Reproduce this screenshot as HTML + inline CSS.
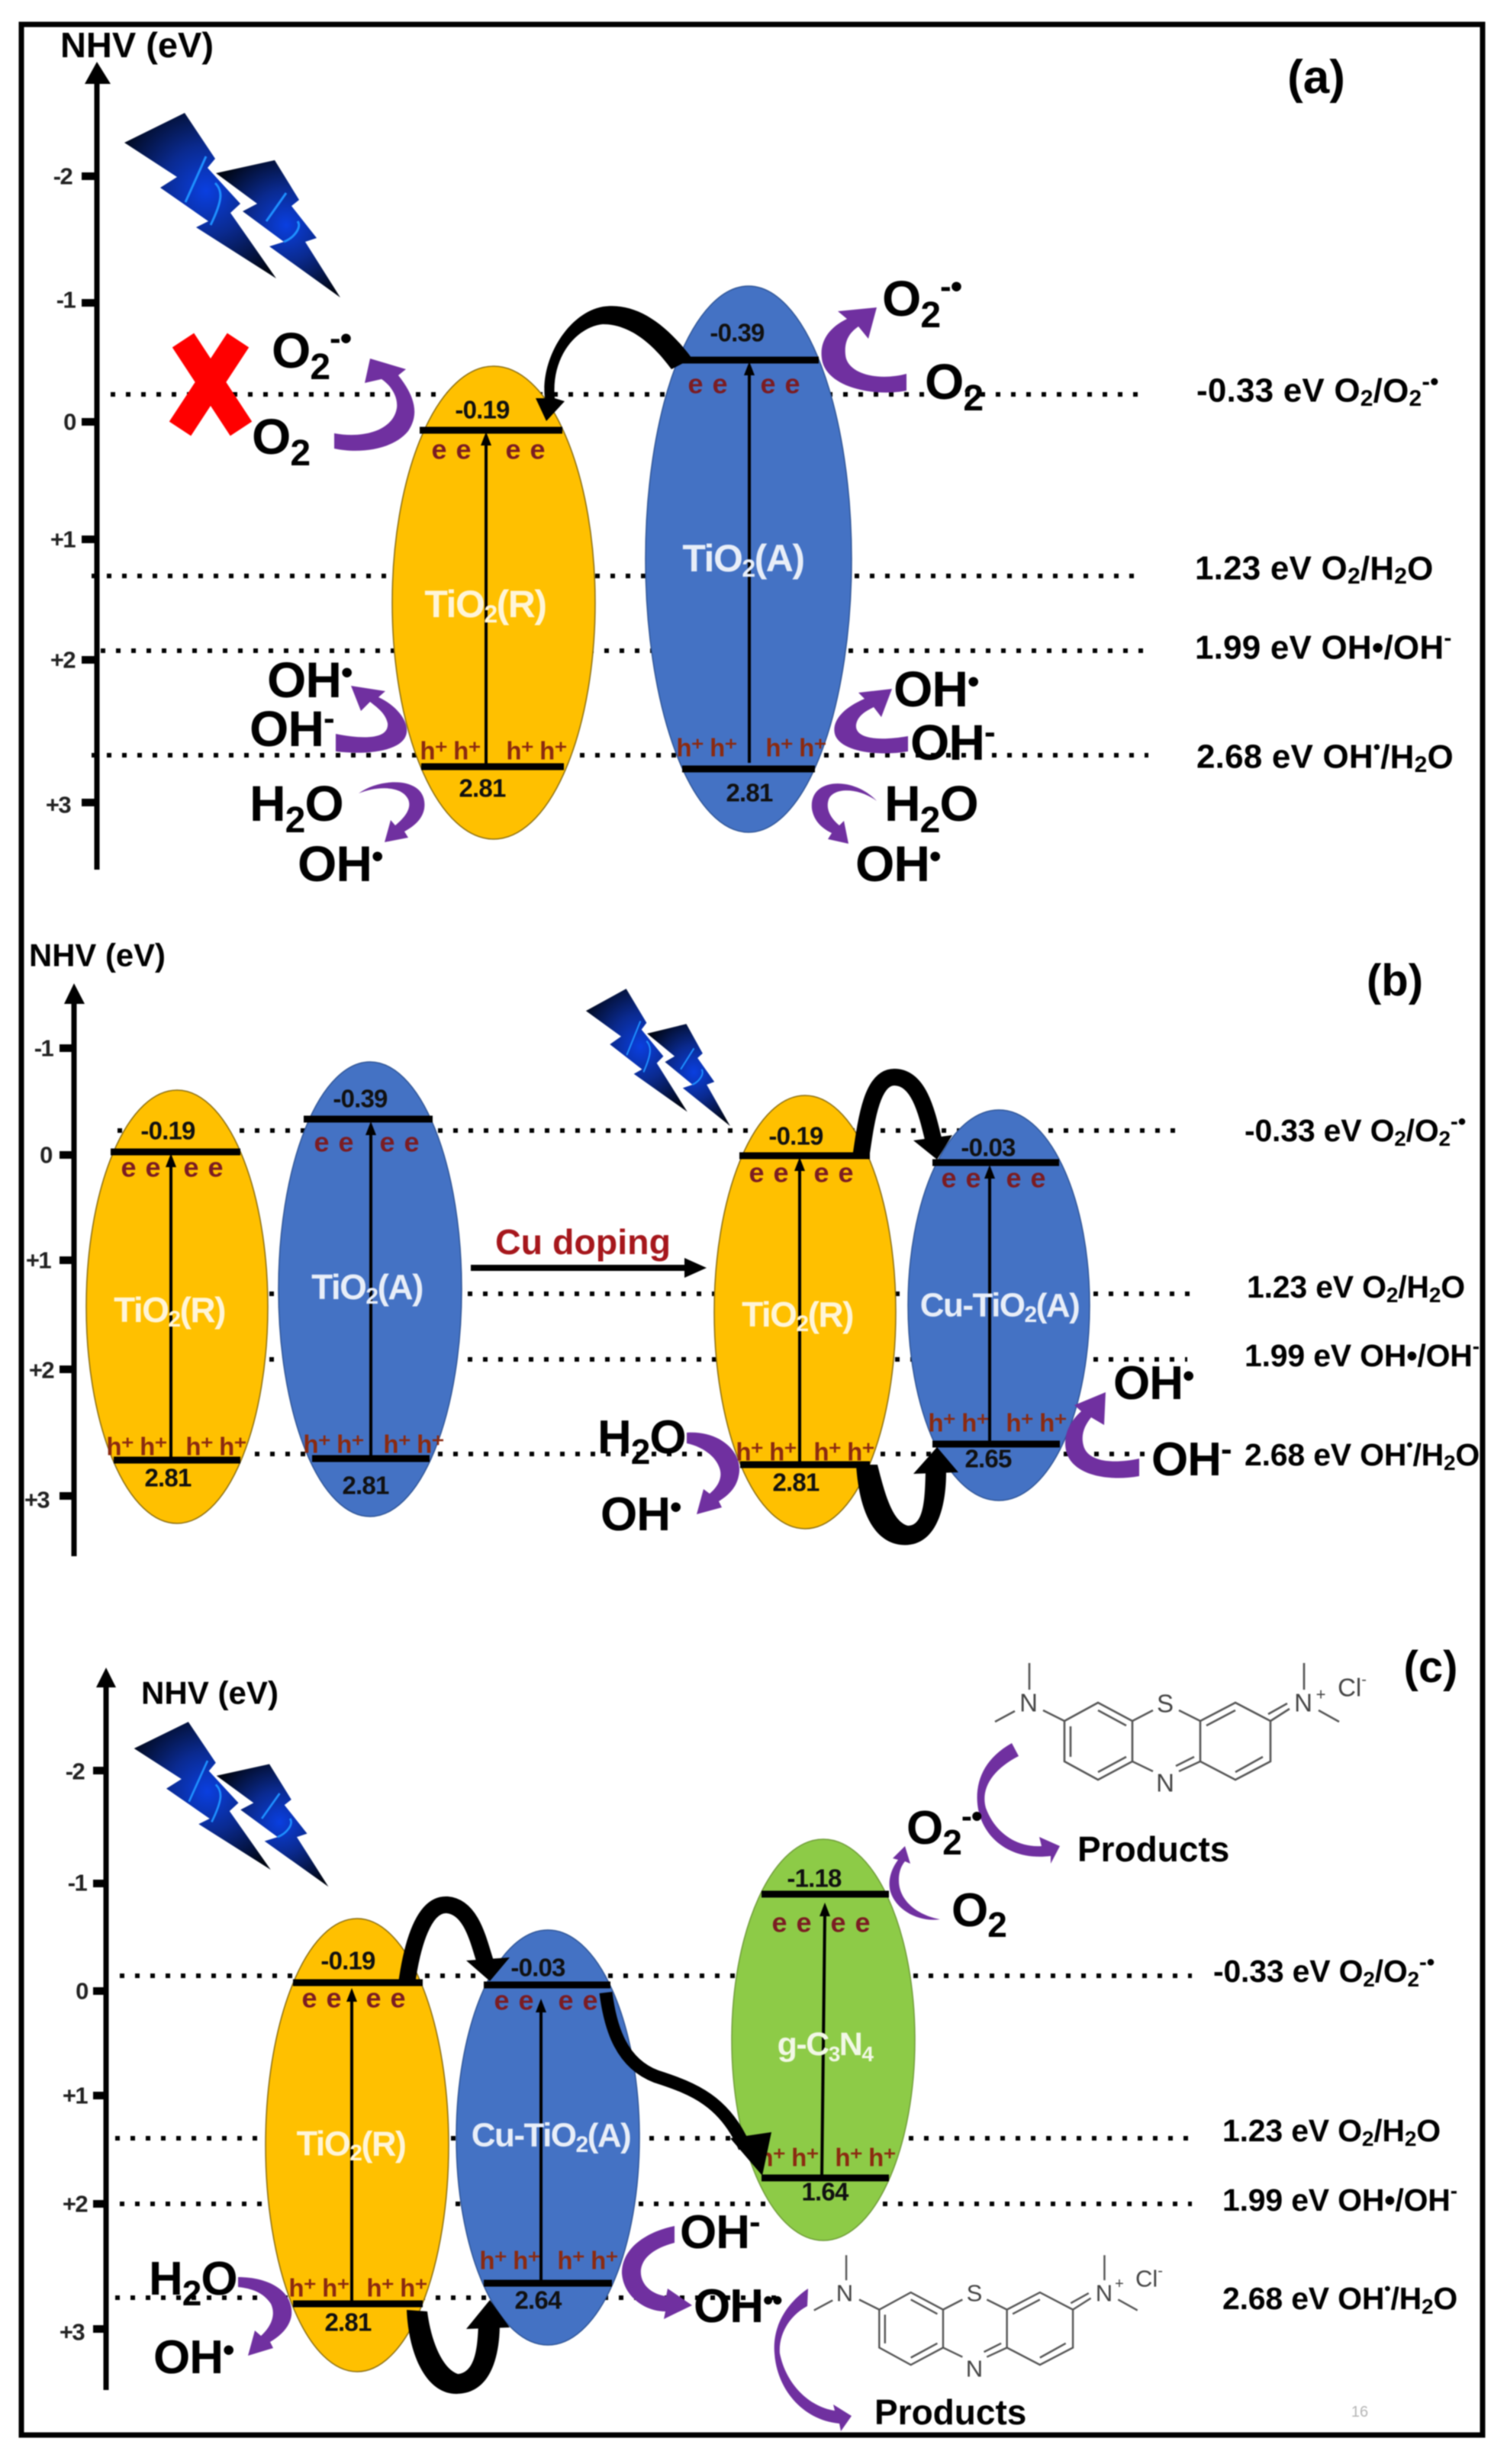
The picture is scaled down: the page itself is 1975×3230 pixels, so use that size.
<!DOCTYPE html>
<html><head><meta charset="utf-8"><style>
html,body{margin:0;padding:0;background:#fff}
svg{display:block;filter:blur(.7px)}
text{font-family:"Liberation Sans",sans-serif;font-weight:700;fill:#000}
.v{font-size:33px;text-anchor:middle;dominant-baseline:central;letter-spacing:-.8px;fill:#111}
.t{font-size:31px;text-anchor:middle;dominant-baseline:central;letter-spacing:-1.5px;fill:#222}
.e{font-size:36px;text-anchor:middle;dominant-baseline:central;fill:#7b1c22;letter-spacing:1px}
.h{font-size:33px;text-anchor:middle;dominant-baseline:central;fill:#8b2a10;letter-spacing:-1px}
.w{font-size:46px;text-anchor:middle;dominant-baseline:central;fill:#fff5d8;letter-spacing:-1.5px}
.b{font-size:46px;text-anchor:middle;dominant-baseline:central;fill:#e8eef8;letter-spacing:-1.5px}
.big{font-size:66px;letter-spacing:-1px}
.bg{font-size:62px;letter-spacing:-1px}
.r{font-size:44px;dominant-baseline:central;letter-spacing:.2px}
.r2{font-size:41px;dominant-baseline:central;letter-spacing:-.2px}
.n{font-size:42px;dominant-baseline:central}
.m{font-weight:400;fill:#444;font-size:33px;text-anchor:middle;dominant-baseline:central}
.d{stroke:#000;stroke-width:6;stroke-dasharray:6 14;fill:none}
.bar{stroke:#000;stroke-width:9;fill:none}
.va{stroke:#000;stroke-width:4;fill:none}
.tick{stroke:#000;stroke-width:10;fill:none}
.ax{stroke:#000;stroke-width:7;fill:none}
.pu{fill:#7030A0}
.ka{stroke:#000;fill:none}
.mol{stroke:#555;stroke-width:2.6;fill:none}
</style></head><body>
<svg width="1975" height="3230" viewBox="0 0 1975 3230" xmlns="http://www.w3.org/2000/svg">
<defs>
<radialGradient id="bg1" gradientUnits="userSpaceOnUse" cx="270" cy="250" r="130"><stop offset="0" stop-color="#0a3fe0"/><stop offset=".45" stop-color="#0a2a90"/><stop offset="1" stop-color="#000614"/></radialGradient>
<radialGradient id="bg2" gradientUnits="userSpaceOnUse" cx="375" cy="295" r="105"><stop offset="0" stop-color="#0a3fe0"/><stop offset=".45" stop-color="#0a2a90"/><stop offset="1" stop-color="#000614"/></radialGradient>
<g id="bolt">
<polygon points="163,187 242,148 282,208 272,220 315,267 302,279 362,365 257,298 273,290 210,246 232,232" fill="url(#bg1)"/>
<polygon points="283,227 360,210 392,262 382,270 415,312 400,317 446,390 353,323 372,317 318,277 337,267" fill="url(#bg2)"/>
<path d="M270 205L243 265M282 240C292 250 292 262 276 295M375 253L349 290M390 290C396 298 385 312 372 317" stroke="#1e90ff" stroke-width="3" fill="none"/>
</g>
<g id="mol" class="mol">
<path d="M1395 2256L1439 2232L1484 2256L1484 2309L1439 2333L1395 2309Z"/>
<path d="M1403 2263V2303M1439 2242L1476 2262M1439 2323L1476 2303"/>
<path d="M1573 2256L1619 2232L1665 2256L1665 2309L1619 2333L1573 2309Z"/>
<path d="M1581 2262L1619 2242M1619 2323L1655 2303"/>
<path d="M1349 2180V2215M1304 2257L1330 2243M1367 2242L1395 2256"/>
<path d="M1709 2180V2215M1728 2242L1755 2257M1665 2256L1690 2240M1662 2247L1687 2233"/>
<path d="M1484 2256L1511 2242M1545 2242L1573 2256M1484 2309L1511 2322M1573 2309L1545 2322M1565 2303L1541 2315"/>
</g>
</defs>
<rect width="1975" height="3230" fill="#fff"/>
<rect x="28" y="32" width="1915" height="3160" fill="none" stroke="#000" stroke-width="7"/>

<!-- PANEL A -->
<path class="d" d="M145 517H1493M120 755H1486M132 853H1505M120 990H1505"/>
<path class="ax" d="M127 105V1140"/><polygon points="127,81 111,110 145,110"/>
<path class="tick" d="M107 231H126M107 397H126M107 553H126M107 707H126M107 865H126M107 1052H126"/>
<text class="t" x="82" y="231">-2</text><text class="t" x="86" y="393">-1</text><text class="t" x="91" y="553">0</text><text class="t" x="82" y="707">+1</text><text class="t" x="82" y="865">+2</text><text class="t" x="76" y="1055">+3</text>
<text class="n" style="font-size:46px" x="79" y="59" textLength="201" lengthAdjust="spacingAndGlyphs">NHV (eV)</text>
<text x="1725" y="122" font-size="62" text-anchor="middle">(a)</text>
<use href="#bolt"/>
<path d="M240 446L316 562M312 446L236 562" stroke="#f00" stroke-width="34" fill="none"/>
<ellipse cx="647" cy="790" rx="133" ry="310" fill="#FFC000" stroke="#8a6d10" stroke-width="1.5"/>
<ellipse cx="981" cy="733" rx="135" ry="358" fill="#4472C4" stroke="#2f5597" stroke-width="1.5"/>
<path class="bar" d="M550 564H737M552 1005H739M892 472H1073M894 1008H1068"/>
<path class="va" d="M637 1005V580M982 1000V488"/><polygon points="637,566 630,584 644,584"/><polygon points="982,474 975,492 989,492"/>
<text class="v" x="632" y="537">-0.19</text><text class="v" x="966" y="436">-0.39</text><text class="v" x="632" y="1033">2.81</text><text class="v" x="982" y="1039">2.81</text>
<text class="e" x="592" y="589">e e</text><text class="e" x="689" y="589">e e</text><text class="e" x="928" y="503">e e</text><text class="e" x="1023" y="503">e e</text>
<text class="h" x="590" y="984">h⁺ h⁺</text><text class="h" x="703" y="984">h⁺ h⁺</text><text class="h" x="926" y="980">h⁺ h⁺</text><text class="h" x="1043" y="980">h⁺ h⁺</text>
<text class="w" style="font-size:50px" x="636" y="792">TiO<tspan dy="13" font-size="32">2</tspan><tspan dy="-13">(R)</tspan></text>
<text class="b" style="font-size:50px" x="974" y="732">TiO<tspan dy="13" font-size="32">2</tspan><tspan dy="-13">(A)</tspan></text>
<path d="M880 484L907 470C870 420 830 396 790 402C745 410 708 470 714 522L702 522L716 552L740 526L727 522C722 465 758 428 790 425C825 425 855 450 880 484Z"/>
<g class="pu">
<path d="M438 568C475 575 515 565 520 535C522 520 512 505 500 497L478 502L485 470L532 484L522 492C540 515 552 540 535 565C515 590 470 595 438 588Z"/>
<path d="M1188 490C1150 500 1110 490 1108 465C1106 445 1115 435 1125 428L1138 444L1149 403L1098 408L1110 418C1085 430 1072 450 1078 475C1088 510 1150 520 1188 512Z"/>
<path d="M440 962C480 970 510 968 508 948C505 935 495 928 485 920L473 932L460 899L505 906L496 914C520 925 535 945 533 960C530 985 480 990 440 985Z"/>
<path d="M1190 965C1150 972 1120 968 1122 950C1124 938 1135 932 1145 927L1155 940L1169 903L1125 908L1133 916C1105 928 1090 945 1094 962C1100 985 1150 992 1190 985Z"/>
<path d="M470 1040C500 1018 562 1018 556 1060C554 1072 545 1082 530 1090L535 1098L504 1104L512 1075L518 1082C530 1072 540 1060 535 1048C527 1030 495 1030 470 1040Z"/>
<path d="M1149 1050C1120 1018 1060 1018 1064 1060C1066 1074 1075 1085 1090 1092L1085 1100L1112 1106L1106 1076L1100 1082C1088 1072 1082 1060 1086 1048C1092 1032 1125 1032 1149 1050Z"/>
</g>
<text class="big" x="356" y="482">O<tspan dy="15" font-size="48">2</tspan><tspan dy="-39" font-size="44">-•</tspan></text>
<text class="big" x="330" y="595">O<tspan dy="15" font-size="48">2</tspan></text>
<text class="big" x="1156" y="414">O<tspan dy="15" font-size="48">2</tspan><tspan dy="-39" font-size="44">-•</tspan></text>
<text class="big" x="1212" y="523">O<tspan dy="15" font-size="48">2</tspan></text>
<text class="big" x="350" y="914">OH<tspan dy="-18" font-size="44">•</tspan></text>
<text class="big" x="327" y="978">OH<tspan dy="-22" font-size="44">-</tspan></text>
<text class="big" x="327" y="1076">H<tspan dy="15" font-size="48">2</tspan><tspan dy="-15">O</tspan></text>
<text class="big" x="390" y="1155">OH<tspan dy="-18" font-size="44">•</tspan></text>
<text class="big" x="1171" y="926">OH<tspan dy="-18" font-size="44">•</tspan></text>
<text class="big" x="1193" y="996">OH<tspan dy="-22" font-size="44">-</tspan></text>
<text class="big" x="1159" y="1076">H<tspan dy="15" font-size="48">2</tspan><tspan dy="-15">O</tspan></text>
<text class="big" x="1121" y="1155">OH<tspan dy="-18" font-size="44">•</tspan></text>
<text class="r" x="1568" y="512">-0.33 eV O<tspan dy="10" font-size="30">2</tspan><tspan dy="-10">/O</tspan><tspan dy="10" font-size="30">2</tspan><tspan dy="-22" font-size="32">-•</tspan></text>
<text class="r" x="1566" y="745">1.23 eV O<tspan dy="10" font-size="30">2</tspan><tspan dy="-10">/H</tspan><tspan dy="10" font-size="30">2</tspan><tspan dy="-10">O</tspan></text>
<text class="r" x="1566" y="849">1.99 eV OH•/OH<tspan dy="-13" font-size="30">-</tspan></text>
<text class="r" x="1568" y="992">2.68 eV OH<tspan dy="-13" font-size="26">•</tspan><tspan dy="13">/H</tspan><tspan dy="10" font-size="30">2</tspan><tspan dy="-10">O</tspan></text>

<!-- PANEL B -->
<path class="d" d="M154 1482H1549M353 1696H1562M353 1782H1556M334 1906H1500"/>
<path class="ax" d="M97 1310V2040"/><polygon points="97,1289 84,1316 111,1316"/>
<path class="tick" d="M78 1374H97M78 1514H97M78 1652H97M78 1795H97M78 1961H97"/>
<text class="t" x="57" y="1374">-1</text><text class="t" x="60" y="1514">0</text><text class="t" x="50" y="1652">+1</text><text class="t" x="54" y="1796">+2</text><text class="t" x="48" y="1966">+3</text>
<text class="n" x="38" y="1252" textLength="179" lengthAdjust="spacingAndGlyphs">NHV (eV)</text>
<text x="1828" y="1305" font-size="58" text-anchor="middle">(b)</text>
<use href="#bolt" transform="translate(659,1186) scale(.668,.744)"/>
<ellipse cx="232" cy="1713" rx="119" ry="284" fill="#FFC000" stroke="#8a6d10" stroke-width="1.5"/>
<ellipse cx="485" cy="1690" rx="120" ry="298" fill="#4472C4" stroke="#2f5597" stroke-width="1.5"/>
<ellipse cx="1055" cy="1720" rx="119" ry="284" fill="#FFC000" stroke="#8a6d10" stroke-width="1.5"/>
<ellipse cx="1309" cy="1711" rx="119" ry="256" fill="#4472C4" stroke="#2f5597" stroke-width="1.5"/>
<path class="bar" d="M145 1510H315M149 1914H315M398 1467H567M409 1912H563M969 1515H1140M970 1920H1140M1222 1524H1388M1222 1893H1389"/>
<path class="va" d="M224 1914V1526M486 1910V1484M1048 1920V1531M1297 1893V1541"/>
<polygon points="224,1512 217,1530 231,1530"/><polygon points="486,1470 479,1488 493,1488"/><polygon points="1048,1517 1041,1535 1055,1535"/><polygon points="1297,1527 1290,1545 1304,1545"/>
<text class="v" x="220" y="1482">-0.19</text><text class="v" x="472" y="1440">-0.39</text><text class="v" x="220" y="1937">2.81</text><text class="v" x="479" y="1947">2.81</text>
<text class="v" x="1043" y="1489">-0.19</text><text class="v" x="1295" y="1504">-0.03</text><text class="v" x="1043" y="1943">2.81</text><text class="v" x="1295" y="1912">2.65</text>
<text class="e" x="185" y="1530">e e</text><text class="e" x="267" y="1530">e e</text><text class="e" x="438" y="1497">e e</text><text class="e" x="524" y="1497">e e</text>
<text class="e" x="1008" y="1537">e e</text><text class="e" x="1093" y="1537">e e</text><text class="e" x="1260" y="1544">e e</text><text class="e" x="1345" y="1544">e e</text>
<text class="h" x="179" y="1896">h⁺ h⁺</text><text class="h" x="283" y="1896">h⁺ h⁺</text><text class="h" x="437" y="1893">h⁺ h⁺</text><text class="h" x="542" y="1893">h⁺ h⁺</text>
<text class="h" x="1004" y="1903">h⁺ h⁺</text><text class="h" x="1106" y="1903">h⁺ h⁺</text><text class="h" x="1256" y="1865">h⁺ h⁺</text><text class="h" x="1358" y="1865">h⁺ h⁺</text>
<text class="w" x="222" y="1717">TiO<tspan dy="12" font-size="30">2</tspan><tspan dy="-12">(R)</tspan></text>
<text class="b" x="481" y="1687">TiO<tspan dy="12" font-size="30">2</tspan><tspan dy="-12">(A)</tspan></text>
<text class="w" x="1045" y="1723">TiO<tspan dy="12" font-size="30">2</tspan><tspan dy="-12">(R)</tspan></text>
<text class="b" style="font-size:44px" x="1310" y="1711">Cu-TiO<tspan dy="12" font-size="30">2</tspan><tspan dy="-12">(A)</tspan></text>
<text x="649" y="1644" font-size="46" style="fill:#A6171C" textLength="230" lengthAdjust="spacingAndGlyphs">Cu doping</text>
<path d="M617 1662H900" stroke="#000" stroke-width="8" fill="none"/><polygon points="926,1662 897,1649 897,1675"/>
<path class="ka" stroke-width="22" d="M1128 1518C1135 1470 1142 1412 1172 1412C1205 1412 1215 1460 1224 1497"/>
<polygon points="1197,1495 1248,1488 1228,1520"/>
<path d="M1122 1920L1150 1920C1160 1960 1170 1995 1190 2000C1212 2000 1212 1960 1213 1930L1240 1930C1240 1980 1225 2030 1180 2025C1140 2020 1125 1970 1122 1920Z"/>
<polygon points="1197,1932 1256,1930 1228,1897"/>
<g class="pu">
<path d="M900 1878C945 1875 975 1905 968 1935C965 1950 955 1960 942 1968L946 1976L913 1985L922 1952L930 1958C942 1948 948 1935 942 1922C935 1905 915 1895 900 1892Z"/>
<path d="M1493 1912C1455 1920 1425 1915 1420 1895C1416 1880 1422 1868 1430 1858L1447 1868L1449 1825L1408 1842L1417 1850C1400 1865 1392 1885 1398 1905C1408 1935 1455 1942 1493 1935Z"/>
</g>
<text class="bg" x="783" y="1905">H<tspan dy="14" font-size="46">2</tspan><tspan dy="-14">O</tspan></text>
<text class="bg" x="787" y="2006">OH<tspan dy="-16" font-size="44">•</tspan></text>
<text class="bg" x="1459" y="1834">OH<tspan dy="-16" font-size="44">•</tspan></text>
<text class="bg" x="1509" y="1934">OH<tspan dy="-20" font-size="44">-</tspan></text>
<text class="r2" x="1631" y="1482">-0.33 eV O<tspan dy="10" font-size="28">2</tspan><tspan dy="-10">/O</tspan><tspan dy="10" font-size="28">2</tspan><tspan dy="-22" font-size="30">-•</tspan></text>
<text class="r2" x="1634" y="1687">1.23 eV O<tspan dy="10" font-size="28">2</tspan><tspan dy="-10">/H</tspan><tspan dy="10" font-size="28">2</tspan><tspan dy="-10">O</tspan></text>
<text class="r2" x="1631" y="1777">1.99 eV OH•/OH<tspan dy="-13" font-size="28">-</tspan></text>
<text class="r2" x="1631" y="1907">2.68 eV OH<tspan dy="-13" font-size="24">•</tspan><tspan dy="13">/H</tspan><tspan dy="10" font-size="28">2</tspan><tspan dy="-10">O</tspan></text>

<!-- PANEL C -->
<path class="d" d="M157 2590H1562M151 2803H1568M157 2889H1562M151 3012H1020"/>
<path class="ax" d="M139 2205V3133"/><polygon points="139,2186 126,2212 152,2212"/>
<path class="tick" d="M122 2321H139M122 2469H139M122 2610H139M122 2747H139M122 2889H139M122 3053H139"/>
<text class="t" x="98" y="2322">-2</text><text class="t" x="101" y="2468">-1</text><text class="t" x="107" y="2610">0</text><text class="t" x="98" y="2747">+1</text><text class="t" x="98" y="2889">+2</text><text class="t" x="94" y="3057">+3</text>
<text class="n" x="185" y="2219" textLength="180" lengthAdjust="spacingAndGlyphs">NHV (eV)</text>
<text x="1875" y="2205" font-size="58" text-anchor="middle">(c)</text>
<use href="#bolt" transform="translate(29,2125) scale(.9,.893)"/>
<ellipse cx="468" cy="2812" rx="120" ry="297" fill="#FFC000" stroke="#8a6d10" stroke-width="1.5"/>
<ellipse cx="718" cy="2802" rx="120" ry="272" fill="#4472C4" stroke="#2f5597" stroke-width="1.5"/>
<ellipse cx="1079" cy="2674" rx="120" ry="263" fill="#8DCB47" stroke="#6f9c38" stroke-width="1.5"/>
<path class="bar" d="M384 2599H554M384 3020H554M634 2602H800M634 2993H802M998 2483H1165M998 2855H1165"/>
<path class="va" d="M461 3020V2620M709 2990V2634M1077 2855L1081 2508"/>
<polygon points="461,2606 454,2624 468,2624"/><polygon points="709,2620 702,2638 716,2638"/><polygon points="1081,2494 1074,2512 1088,2512"/>
<text class="v" x="456" y="2570">-0.19</text><text class="v" x="705" y="2579">-0.03</text><text class="v" x="1067" y="2462">-1.18</text><text class="v" x="456" y="3044">2.81</text><text class="v" x="705" y="3015">2.64</text><text class="v" x="1081" y="2873">1.64</text>
<text class="e" x="422" y="2619">e e</text><text class="e" x="506" y="2619">e e</text><text class="e" x="674" y="2622">e e</text><text class="e" x="758" y="2622">e e</text><text class="e" x="1038" y="2520">e e</text><text class="e" x="1115" y="2520">e e</text>
<text class="h" x="418" y="2999">h⁺ h⁺</text><text class="h" x="520" y="2999">h⁺ h⁺</text><text class="h" x="668" y="2963">h⁺ h⁺</text><text class="h" x="770" y="2963">h⁺ h⁺</text><text class="h" x="1033" y="2828">h⁺ h⁺</text><text class="h" x="1134" y="2828">h⁺ h⁺</text>
<text class="w" style="font-size:45px" x="460" y="2810">TiO<tspan dy="12" font-size="30">2</tspan><tspan dy="-12">(R)</tspan></text>
<text class="b" style="font-size:44px" x="722" y="2799">Cu-TiO<tspan dy="12" font-size="30">2</tspan><tspan dy="-12">(A)</tspan></text>
<text class="b" style="fill:#f2f8e6;font-size:43px" x="1081" y="2680">g-C<tspan dy="12" font-size="28">3</tspan><tspan dy="-12">N</tspan><tspan dy="12" font-size="28">4</tspan></text>
<path class="ka" stroke-width="22" d="M533 2600C540 2550 555 2495 586 2497C620 2500 628 2550 638 2578"/>
<polygon points="611,2570 668,2566 642,2597"/>
<path d="M533 3028L560 3030C565 3070 580 3105 600 3112C625 3110 626 3070 627 3045L655 3045C655 3095 640 3140 595 3138C555 3135 535 3080 533 3028Z"/>
<polygon points="611,3053 668,3051 642,3015"/>
<path class="ka" stroke-width="17" d="M794 2612C800 2660 815 2705 860 2722C910 2738 950 2755 976 2815"/>
<polygon points="957,2803 1011,2795 999,2852"/>
<g class="pu">
<path d="M1232 2516C1200 2510 1178 2490 1178 2465C1178 2452 1182 2445 1186 2440L1193 2443L1186 2420L1170 2436L1177 2438C1168 2450 1163 2465 1167 2480C1175 2505 1205 2520 1232 2516Z"/>
<path d="M312 2985C355 2985 385 3005 382 3035C380 3050 368 3062 354 3070L358 3078L325 3088L334 3055L342 3062C355 3050 362 3035 355 3020C345 3005 330 3000 312 2998Z"/>
<path d="M884 2918C850 2925 815 2945 815 2980C817 3010 845 3030 872 3030L870 3040L907 3022L875 3000L873 3010C855 3008 838 2995 840 2975C843 2955 865 2945 884 2940Z"/>
<path d="M1326 2285C1290 2305 1278 2335 1281 2365C1285 2405 1320 2440 1377 2433L1377 2443L1389 2420L1362 2408L1365 2420C1335 2422 1305 2405 1292 2370C1285 2345 1300 2320 1335 2302Z"/>
<path d="M1059 3000C1030 3020 1012 3050 1015 3085C1018 3130 1050 3172 1100 3177L1102 3187L1116 3167L1092 3152L1094 3160C1060 3155 1030 3125 1022 3085C1020 3060 1035 3035 1058 3023Z"/>
</g>
<text class="bg" x="1188" y="2417">O<tspan dy="14" font-size="46">2</tspan><tspan dy="-36" font-size="42">-•</tspan></text>
<text class="bg" x="1247" y="2525">O<tspan dy="14" font-size="46">2</tspan></text>
<text x="1412" y="2440" font-size="46">Products</text>
<text x="1146" y="3178" font-size="46">Products</text>
<text class="bg" x="195" y="3008">H<tspan dy="14" font-size="46">2</tspan><tspan dy="-14">O</tspan></text>
<text class="bg" x="201" y="3111">OH<tspan dy="-16" font-size="44">•</tspan></text>
<text class="bg" x="891" y="2947">OH<tspan dy="-20" font-size="44">-</tspan></text>
<text class="bg" x="909" y="3044">OH<tspan dy="-16" font-size="38">••</tspan></text>
<text class="r2" x="1590" y="2584">-0.33 eV O<tspan dy="10" font-size="28">2</tspan><tspan dy="-10">/O</tspan><tspan dy="10" font-size="28">2</tspan><tspan dy="-22" font-size="30">-•</tspan></text>
<text class="r2" x="1602" y="2793">1.23 eV O<tspan dy="10" font-size="28">2</tspan><tspan dy="-10">/H</tspan><tspan dy="10" font-size="28">2</tspan><tspan dy="-10">O</tspan></text>
<text class="r2" x="1602" y="2884">1.99 eV OH•/OH<tspan dy="-13" font-size="28">-</tspan></text>
<text class="r2" x="1602" y="3013">2.68 eV OH<tspan dy="-13" font-size="24">•</tspan><tspan dy="13">/H</tspan><tspan dy="10" font-size="28">2</tspan><tspan dy="-10">O</tspan></text>

<use href="#mol"/>
<use href="#mol" transform="translate(-159,907) scale(.94)"/>
<text class="m" x="1527" y="2233">S</text><text class="m" x="1527" y="2337">N</text><text class="m" x="1348" y="2232">N</text><text class="m" x="1708" y="2232">N</text><text class="m" style="font-size:22px" x="1731" y="2221">+</text><text class="m" x="1772" y="2212">Cl<tspan dy="-10" font-size="20">-</tspan></text>
<text class="m" style="font-size:31px" x="1277" y="3006">S</text><text class="m" style="font-size:31px" x="1277" y="3105">N</text><text class="m" style="font-size:31px" x="1107" y="3006">N</text><text class="m" style="font-size:31px" x="1447" y="3006">N</text><text class="m" style="font-size:20px" x="1467" y="2994">+</text><text class="m" style="font-size:31px" x="1506" y="2987">Cl<tspan dy="-10" font-size="20">-</tspan></text>
<text x="1782" y="3168" font-size="20" style="fill:#b5b5b5;font-weight:400" text-anchor="middle">16</text>
</svg>
</body></html>
